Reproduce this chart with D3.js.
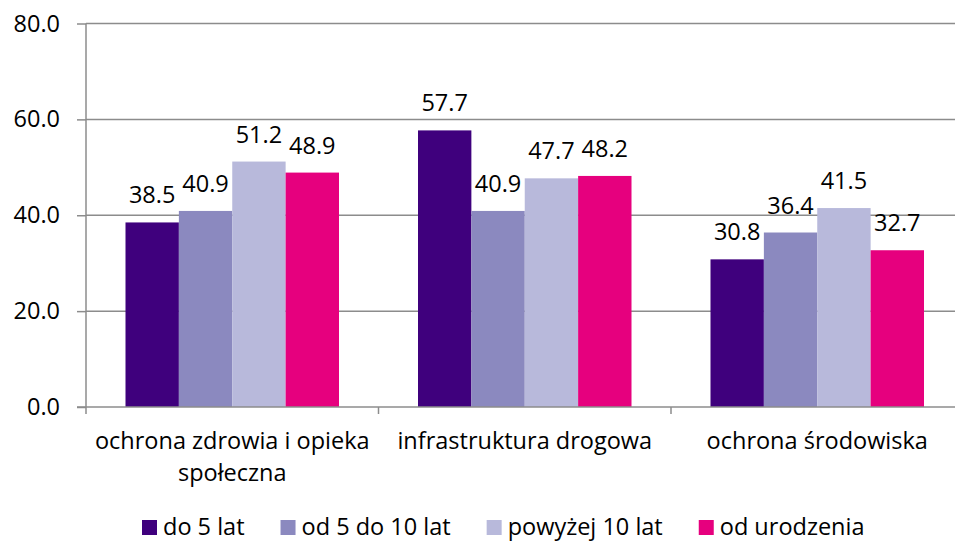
<!DOCTYPE html>
<html>
<head>
<meta charset="utf-8">
<script src="https://cdn.jsdelivr.net/npm/d3@7"></script>
<style>
  body { margin: 0; background: #fff; }
  text { font-family: 'Open Sans', sans-serif; fill: #000; }
</style>
</head>
<body>
<div id="chart"></div>
<script>

// data
const categories = ['ochrona zdrowia i opieka społeczna', 'infrastruktura drogowa', 'ochrona środowiska'];
const seriesNames = ['do 5 lat', 'od 5 do 10 lat', 'powyżej 10 lat', 'od urodzenia'];
const do5lat = [38.5, 57.7, 30.8];
const od5do10lat = [40.9, 40.9, 36.4];
const powyzej10lat = [51.2, 47.7, 41.5];
const odUrodzenia = [48.9, 48.2, 32.7];
const yTicks = [0, 20, 40, 60, 80];

const seriesValues = [do5lat, od5do10lat, powyzej10lat, odUrodzenia];
const colors = ['#3f007d', '#8b89bf', '#b8b9db', '#e6007e'];

const width = 955;
const height = 541;
const plotLeft = 86, plotRight = 963.5, plotTop = 23.5, plotBottom = 407;
const fontSize = 23.5;
const axisColor = '#8c8c8c';

const svg = d3.select('#chart')
  .append('svg')
  .attr('width', width)
  .attr('height', height);

const x0 = d3.scaleBand()
  .domain(categories)
  .range([plotLeft, plotRight])
  .padding(0);

const x1 = d3.scaleBand()
  .domain(seriesNames)
  .range([0, x0.bandwidth()])
  .paddingInner(0)
  .paddingOuter(0.74);

const y = d3.scaleLinear()
  .domain([0, 80])
  .range([plotBottom, plotTop]);

//gridlines
svg.append('g')
  .selectAll('line')
  .data(yTicks.filter(t => t > 0))
  .enter()
  .append('line')
  .attr('x1', plotLeft)
  .attr('x2', width)
  .attr('y1', d => y(d))
  .attr('y2', d => y(d))
  .attr('stroke', axisColor)
  .attr('stroke-width', 1.5);

//bars
const groups = svg.append('g')
  .selectAll('g')
  .data(categories)
  .enter()
  .append('g')
  .attr('transform', d => `translate(${x0(d)},0)`);

const cells = (c, ci) => seriesNames.map((s, si) => ({ s, si, value: seriesValues[si][ci] }));

groups.selectAll('rect')
  .data(cells)
  .enter()
  .append('rect')
  .attr('x', d => x1(d.s))
  .attr('y', d => y(d.value))
  .attr('width', x1.bandwidth())
  .attr('height', d => y(0) - y(d.value))
  .attr('fill', d => colors[d.si]);

groups.selectAll('text.val')
  .data(cells)
  .enter()
  .append('text')
  .attr('class', 'val')
  .attr('x', d => x1(d.s) + x1.bandwidth() / 2)
  .attr('y', d => y(d.value) - 19)
  .attr('text-anchor', 'middle')
  .attr('font-size', fontSize)
  .text(d => d3.format('.1f')(d.value));

//y axis
const yAxis = svg.append('g')
  .attr('transform', `translate(${plotLeft},0)`)
  .call(d3.axisLeft(y).tickValues(yTicks).tickFormat(d3.format('.1f')).tickSize(9).tickPadding(17));

yAxis.select('.domain')
  .attr('stroke', axisColor)
  .attr('stroke-width', 1.5)
  .attr('d', `M0,${plotTop}V${plotBottom}`);
yAxis.selectAll('.tick line').attr('stroke', axisColor).attr('stroke-width', 1.5);
yAxis.selectAll('.tick text')
  .attr('font-size', fontSize)
  .attr('font-family', "'Open Sans', sans-serif")
  .attr('fill', '#000');

//x axis
svg.append('line')
  .attr('x1', plotLeft - 9)
  .attr('x2', width)
  .attr('y1', plotBottom)
  .attr('y2', plotBottom)
  .attr('stroke', axisColor)
  .attr('stroke-width', 1.5);

svg.append('g')
  .selectAll('line')
  .data(categories)
  .enter()
  .append('line')
  .attr('x1', d => x0(d))
  .attr('x2', d => x0(d))
  .attr('y1', plotBottom)
  .attr('y2', plotBottom + 7)
  .attr('stroke', axisColor)
  .attr('stroke-width', 1.5);

//category labels, wrapped
const catLabels = svg.append('g')
  .selectAll('text')
  .data(categories)
  .enter()
  .append('text')
  .attr('x', d => x0(d) + x0.bandwidth() / 2)
  .attr('y', 449)
  .attr('text-anchor', 'middle')
  .attr('font-size', fontSize);

catLabels.each(function (d) {
  const el = d3.select(this);
  const cx = +el.attr('x');
  const words = d.split(' ');
  let line = [];
  let tspan = el.append('tspan').attr('x', cx).attr('dy', 0);
  words.forEach((w) => {
    line.push(w);
    tspan.text(line.join(' '));
    if (tspan.node().getComputedTextLength() > 285 && line.length > 1) {
      line.pop();
      tspan.text(line.join(' '));
      line = [w];
      tspan = el.append('tspan').attr('x', cx).attr('dy', 32).text(w);
    }
  });
});

//legend
const legend = svg.append('g').attr('transform', 'translate(142,535)');
let lx = 0;
seriesNames.forEach((s, i) => {
  const item = legend.append('g').attr('transform', `translate(${lx},0)`);
  item.append('rect')
    .attr('x', 0)
    .attr('y', -15)
    .attr('width', 15)
    .attr('height', 15)
    .attr('fill', colors[i]);
  const t = item.append('text')
    .attr('x', 21)
    .attr('y', 0)
    .attr('font-size', fontSize)
    .text(s);
  lx += 21 + t.node().getComputedTextLength() + 36;
});

</script>
</body>
</html>
